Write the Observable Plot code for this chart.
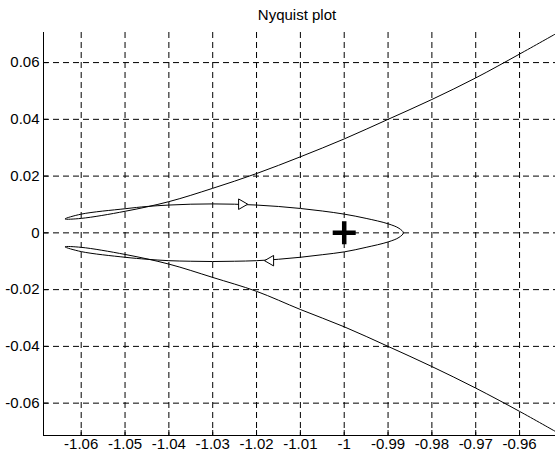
<!DOCTYPE html>
<html>
<head>
<meta charset="utf-8">
<script src="https://cdn.jsdelivr.net/npm/d3@7"></script>
<script src="https://cdn.jsdelivr.net/npm/@observablehq/plot@0.6"></script>
<style>
  html, body { margin: 0; padding: 0; background: #fff; width: 555px; height: 459px; overflow: hidden; }
  #title { position: absolute; left: 0; top: 0; width: 594px; height: 30px; box-sizing: border-box; padding-top: 7px;
           text-align: center; font-family: Arial, "Liberation Sans", sans-serif; font-size: 15px; line-height: 15px; color: #000; }
  #chart { position: absolute; left: 0; top: 30px; }
</style>
</head>
<body>
<div id="title">Nyquist plot</div>
<div id="chart"></div>
<script>
// ---- data ----
const xTicks = [-1.06, -1.05, -1.04, -1.03, -1.02, -1.01, -1.0, -0.99, -0.98, -0.97, -0.96];
const yTicks = [-0.06, -0.04, -0.02, 0, 0.02, 0.04, 0.06];
const xDomain = [-1.0686, -0.9518];
const yDomain = [-0.0714, 0.0706];

// upper outer branch: from the right edge down to the left tip
const upperOuterX = [-0.9518, -0.96, -0.97, -0.98, -0.99, -1.00, -1.01, -1.02, -1.03, -1.04, -1.05, -1.06, -1.0637];
const upperOuterY = [0.0701, 0.0630, 0.0546, 0.0470, 0.0400, 0.0331, 0.0268, 0.0209, 0.0157, 0.0110, 0.0076, 0.0051, 0.0049];
// upper inner branch: from the left tip to the right tip of the loop
const upperInnerX = [-1.06, -1.05, -1.045, -1.04, -1.035, -1.03, -1.025, -1.02, -1.015, -1.01, -1.005, -1.00, -0.995, -0.99, -0.9875, -0.9865];
const upperInnerY = [0.0066, 0.0085, 0.0093, 0.0098, 0.0101, 0.0102, 0.0101, 0.0098, 0.0093, 0.0086, 0.0077, 0.0066, 0.0051, 0.0032, 0.0016, 0];
// lower inner branch: from the right tip back to the left tip
const lowerInnerX = [-0.9875, -0.99, -0.995, -1.00, -1.005, -1.01, -1.015, -1.02, -1.025, -1.03, -1.035, -1.04, -1.045, -1.05, -1.06, -1.0637];
const lowerInnerY = [-0.0016, -0.0032, -0.0051, -0.0067, -0.0077, -0.0086, -0.0093, -0.0098, -0.0100, -0.0101, -0.0100, -0.0098, -0.0093, -0.0086, -0.0066, -0.0049];
// lower outer branch: from the left tip to the right edge
const lowerOuterX = [-1.06, -1.05, -1.04, -1.03, -1.02, -1.01, -1.00, -0.99, -0.98, -0.97, -0.96, -0.9518];
const lowerOuterY = [-0.0051, -0.0076, -0.0110, -0.0157, -0.0206, -0.0270, -0.0331, -0.0400, -0.0471, -0.0547, -0.0629, -0.0700];

// direction arrows
const arrowX = [-1.0234, -1.0168];
const arrowY = [0.0101, -0.0098];
const arrowDir = [90, -90];

// critical point
const critX = [-1];
const critY = [0];

// ---- build tables ----
const path = [];
const push = (xs, ys) => xs.forEach((x, i) => path.push({x, y: ys[i]}));
push(upperOuterX, upperOuterY);
push(upperInnerX, upperInnerY);
push(lowerInnerX, lowerInnerY);
push(lowerOuterX, lowerOuterY);

const arrows = arrowX.map((x, i) => ({x, y: arrowY[i], rot: arrowDir[i]}));
const crit = critX.map((x, i) => ({x, y: critY[i]}));

const fmt = d => String(+d.toFixed(2));

const plusSymbol = {
  draw(context, size) {
    const r = Math.sqrt(size / Math.PI);
    context.moveTo(-r, 0); context.lineTo(r, 0);
    context.moveTo(0, -r); context.lineTo(0, r);
  }
};

const W = 555, H = 429, mL = 43, mR = 0, mT = 2, mB = 24;
const plotH = H - mT - mB, plotW = W - mL - mR;

const chart = Plot.plot({
  width: W, height: H,
  marginLeft: mL, marginRight: mR, marginTop: mT, marginBottom: mB,
  x: {domain: xDomain, label: null},
  y: {domain: yDomain, label: null},
  style: {fontFamily: "Arial, 'Liberation Sans', sans-serif", fontSize: "15px", color: "#000", background: "#fff"},
  marks: [
    Plot.ruleX(xTicks, {x: d => d, stroke: "#000", strokeWidth: 1, strokeDasharray: "6,4"}),
    Plot.ruleY(yTicks, {y: d => d, stroke: "#000", strokeWidth: 1, strokeDasharray: "6,4"}),
    Plot.tickX(xTicks, {x: d => d, insetTop: plotH - 5, stroke: "#000"}),
    Plot.tickY(yTicks, {y: d => d, insetRight: plotW - 5, stroke: "#000"}),
    Plot.ruleX([xDomain[0]], {stroke: "#000"}),
    Plot.ruleY([yDomain[0]], {stroke: "#000"}),
    Plot.axisX(xTicks, {tickSize: 0, tickPadding: 3, tickFormat: fmt, fontSize: 15, fill: "#000", label: null}),
    Plot.axisY(yTicks, {tickSize: 0, tickPadding: 4, tickFormat: fmt, fontSize: 15, fill: "#000", label: null}),
    Plot.line(path, {x: "x", y: "y", curve: "catmull-rom", stroke: "#000", strokeWidth: 1, clip: true}),
    Plot.dot(arrows, {x: "x", y: "y", symbol: "triangle", rotate: "rot", r: 3.9, fill: "#fff", stroke: "#000", strokeWidth: 1}),
    Plot.dot(crit, {x: "x", y: "y", symbol: plusSymbol, r: 11.5, fill: "none", stroke: "#000", strokeWidth: 4.5})
  ]
});
document.getElementById("chart").appendChild(chart);
</script>
</body>
</html>
